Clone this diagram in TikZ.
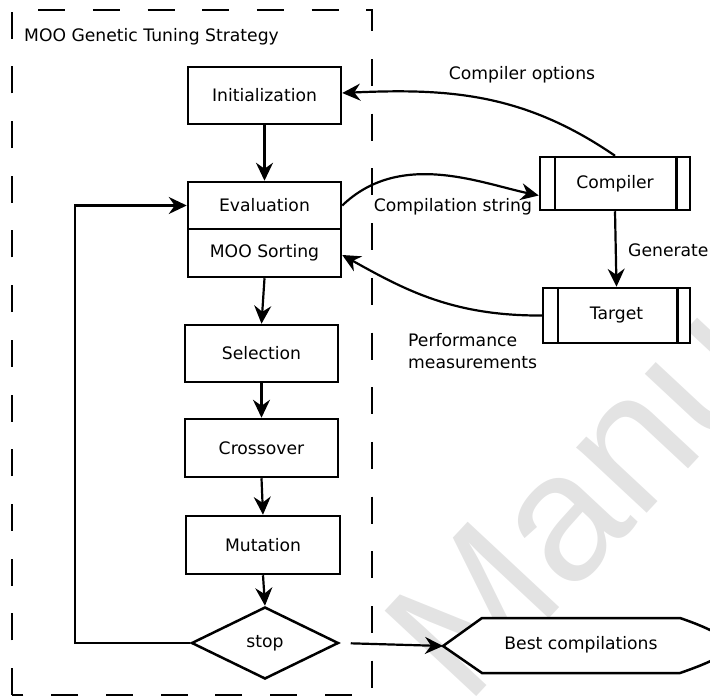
\documentclass[tikz,border=0pt]{standalone}
\usepackage{fontspec}
\setmainfont{DejaVu Sans}
\newfontfamily\markfont{Liberation Sans}
\usetikzlibrary{arrows.meta,shapes.geometric}

\tikzset{
  every node/.style={font=\fontsize{17.2}{21.5}\selectfont},
  stepbox/.style={draw, fill=white, line width=2.5pt, inner sep=0pt},
  flow/.style={line width=2.2pt, -{Stealth[length=18pt,width=17pt,inset=6pt]}},
  lbl/.style={inner sep=0pt},
}

\begin{document}
\begin{tikzpicture}[x=1pt, y=-1pt]
  \useasboundingbox (0,0) rectangle (710,696);
  \clip (0,0) rectangle (710,696);

  % faint watermark behind everything
  \node[rotate=47, anchor=base west, inner sep=0pt, text=black!11,
        font=\markfont\fontsize{182}{182}\selectfont] (mark) at (466,708) {Manuscript};

  % dashed frame of the tuning strategy
  \draw[line width=2pt, dash pattern=on 27pt off 27.7pt] (12,695) rectangle (372,10);
  \node[lbl, anchor=west] (title) at (24,37) {MOO Genetic Tuning Strategy};

  % genetic loop
  \node[stepbox, minimum width=153pt, minimum height=57pt] (init) at (264.5,95.5) {Initialization};
  \node[stepbox, minimum width=153pt, minimum height=47pt] (evalA) at (264.5,205.5) {Evaluation};
  \node[stepbox, minimum width=153pt, minimum height=48pt] (sortB) at (264.5,253) {MOO Sorting};
  \node[stepbox, minimum width=153pt, minimum height=57pt] (sel) at (261.5,353.5) {Selection};
  \node[stepbox, minimum width=153pt, minimum height=58pt] (cross) at (261.5,448) {Crossover};
  \node[stepbox, minimum width=154pt, minimum height=58pt] (mut) at (263,545) {Mutation};
  \node[stepbox, diamond, minimum width=147pt, minimum height=72pt] (stop) at (265,643) {stop};

  % compiler and target
  \node[stepbox, minimum width=150pt, minimum height=53pt] (comp) at (615,183.5) {Compiler};
  \draw[line width=2.5pt] ([xshift=16pt]comp.north west) -- ([xshift=16pt]comp.south west)
                          ([xshift=-15pt]comp.north east) -- ([xshift=-15pt]comp.south east);
  \node[stepbox, minimum width=147pt, minimum height=55pt] (targ) at (616.5,315.5) {Target};
  \draw[line width=2.5pt] ([xshift=16pt]targ.north west) -- ([xshift=16pt]targ.south west)
                          ([xshift=-14pt]targ.north east) -- ([xshift=-14pt]targ.south east);

  % result display shape
  \coordinate (bestin) at (443,646);
  \draw[line width=2.5pt, fill=white, line join=miter]
    (bestin) -- (482,618) -- (680,618)
    .. controls (715,630) and (730,640) .. (730,646)
    .. controls (730,652) and (715,661) .. (680,673)
    -- (482,673) -- cycle;
  \node[lbl] (best) at (581,645) {Best compilations};

  % connectors
  \draw[flow] (init.south) -- (evalA.north);
  \draw[flow] (sortB.south) -- (sel.north);
  \draw[flow] (sel.south) -- (cross.north);
  \draw[flow] (cross.south) -- (mut.north);
  \draw[flow] (mut.south) -- (stop.north);
  \coordinate (loopcorner) at (75,643);
  \draw[flow] (stop.west) -- (loopcorner) |- (evalA.west);
  \draw[flow, shorten <=11pt] (stop.east) -- (bestin);

  \draw[flow] (comp.south) -- (targ.north);
  \node[lbl, anchor=west] (gen) at (628,250) {Generate};

  \draw[flow] (comp.north) .. controls (525,94) and (451,88) .. ([yshift=2.5pt]init.east);
  \node[lbl] (optl) at (522,75) {Compiler options};

  \draw[flow] (evalA.east) .. controls (400,150) and (480,183) .. ([yshift=-12pt]comp.west);
  \node[lbl] (strl) at (453,207) {Compilation string};

  \draw[flow] (targ.west) .. controls (453,316) and (405,290) .. ([yshift=-2pt]sortB.east);
  \node[lbl, anchor=west, align=left] (perfl) at (408,351) {Performance\\measurements};
\end{tikzpicture}
\end{document}
